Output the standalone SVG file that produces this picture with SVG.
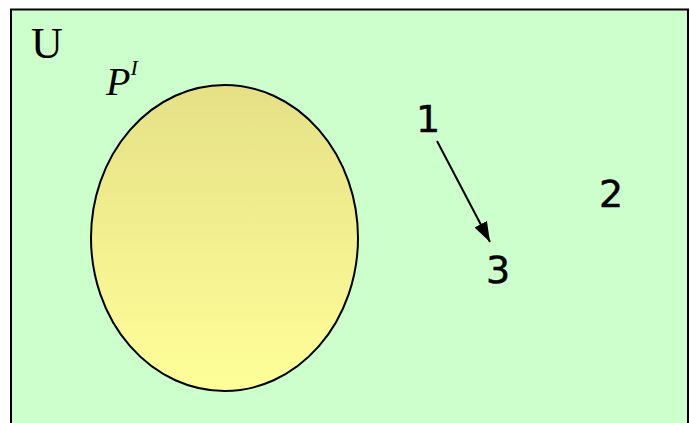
<svg xmlns="http://www.w3.org/2000/svg" width="690" height="423" viewBox="0 0 690 423">
<defs>
<linearGradient id="g" x1="0" y1="0" x2="0" y2="1">
<stop offset="0" stop-color="#E5E086"/>
<stop offset="1" stop-color="#FFFF99"/>
</linearGradient>
<marker id="ah" markerWidth="20" markerHeight="14" refX="20" refY="7" orient="auto" markerUnits="userSpaceOnUse" viewBox="0 0 20 14">
<path d="M0,0 L20,7 L0,14 z" fill="#000"/>
</marker>
<style>
.d{font-family:"Comic Sans MS","DejaVu Sans",sans-serif;font-size:38px;fill:#000;stroke:#000;stroke-width:0.5}
.s{font-family:"Liberation Serif",serif;fill:#000}
</style>
</defs>
<g id="universe">
<rect x="11" y="9.5" width="677" height="420" fill="#CCFFCC" stroke="#000" stroke-width="2"/>
<text class="s" x="31" y="58" font-size="44">U</text>
</g>
<g id="set-P">
<ellipse cx="224.5" cy="238" rx="133.5" ry="153" fill="url(#g)" stroke="#000" stroke-width="2"/>
<text class="s" x="106" y="95" font-size="40" font-style="italic">P<tspan font-size="22" dy="-20">I</tspan></text>
</g>
<g id="n1"><text class="d" x="416" y="132">1</text></g>
<g id="n2"><text class="d" x="599" y="207">2</text></g>
<g id="n3"><text class="d" x="486" y="283">3</text></g>
<g id="connectors">
<line x1="437" y1="141" x2="490" y2="242" stroke="#000" stroke-width="2" marker-end="url(#ah)"/>
</g>
</svg>
